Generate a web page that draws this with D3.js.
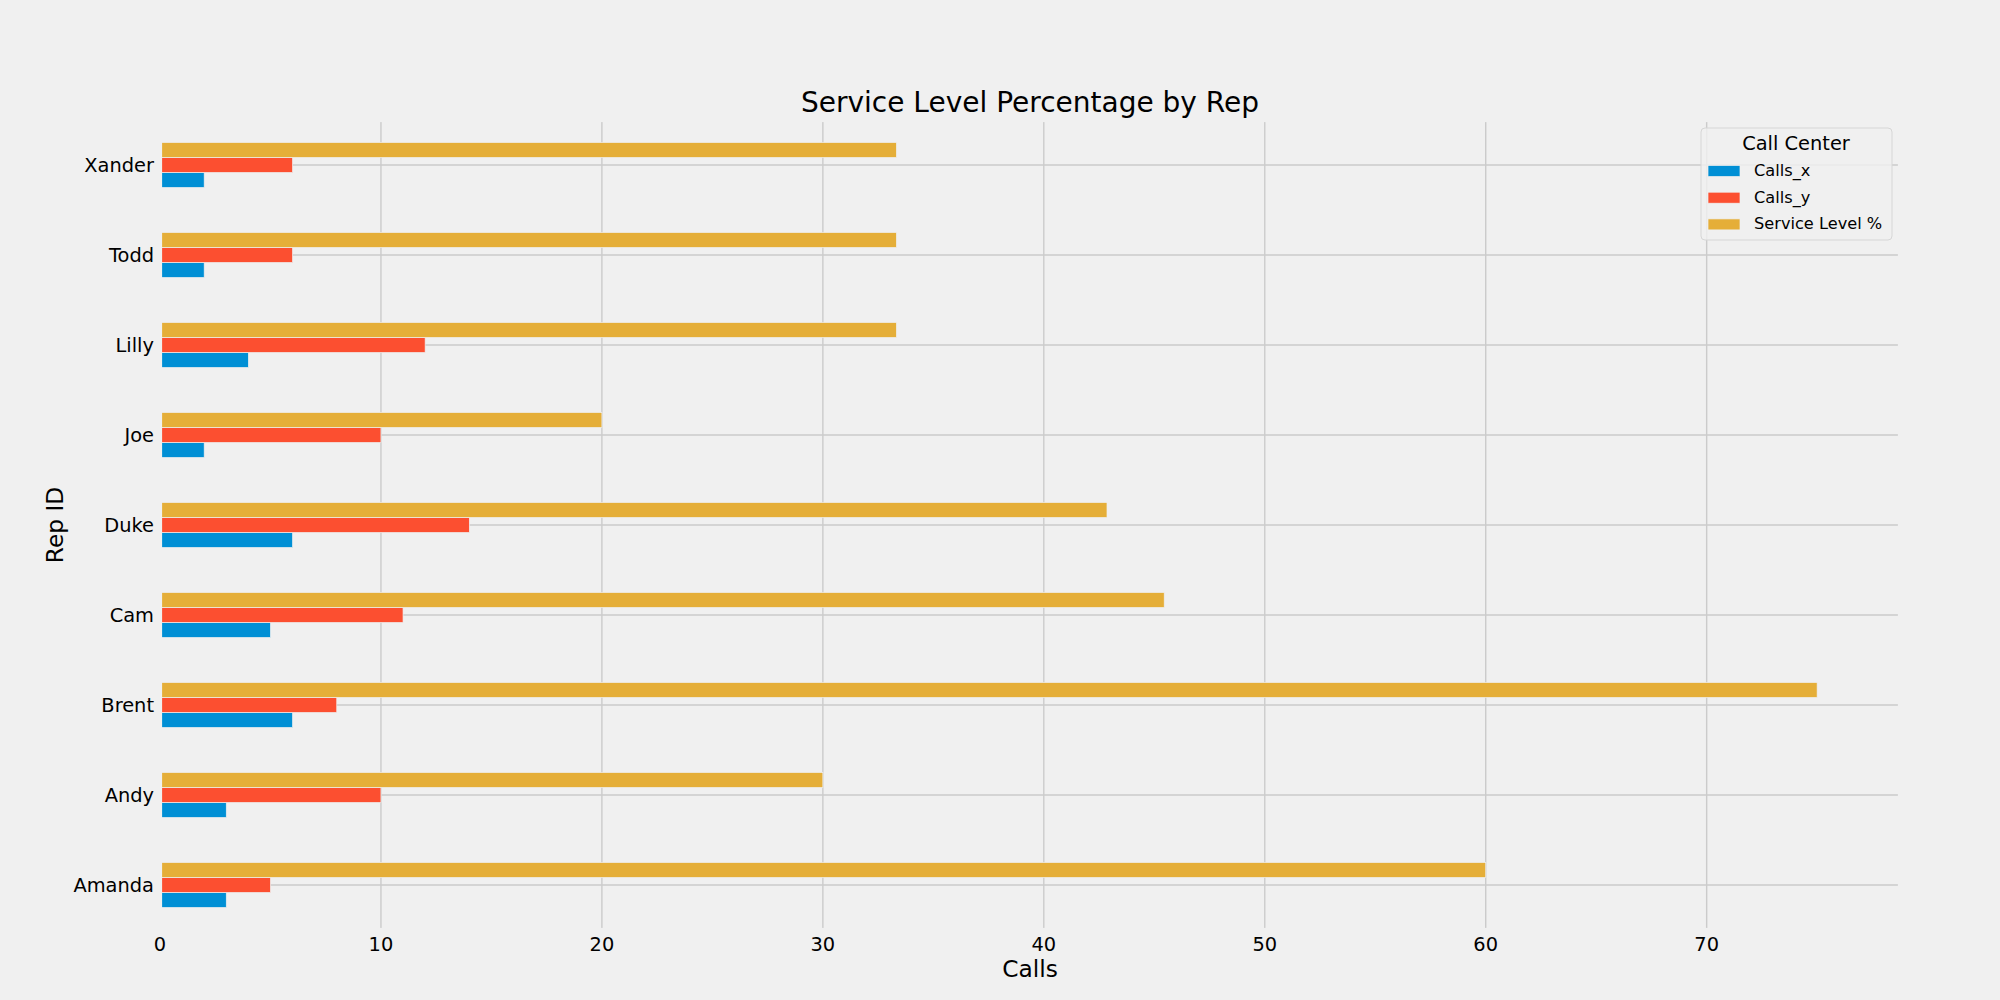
<!DOCTYPE html>
<html>
<head>
<meta charset="utf-8">
<script src="https://cdn.jsdelivr.net/npm/d3@7"></script>
<style>
  html, body { margin: 0; padding: 0; background: #f0f0f0; }
  svg { display: block; font-family: "DejaVu Sans", sans-serif; }
</style>
</head>
<body>
<svg id="chart" width="2000" height="1000"></svg>
<script>
// ---- data ----
const reps = ["Amanda", "Andy", "Brent", "Cam", "Duke", "Joe", "Lilly", "Todd", "Xander"];
const callsX = [3, 3, 6, 5, 6, 2, 4, 2, 2];
const callsY = [5, 10, 8, 11, 14, 10, 12, 6, 6];
const serviceLevel = [60, 30, 75, 45.45, 42.86, 20, 33.33, 33.33, 33.33];
const seriesNames = ["Calls_x", "Calls_y", "Service Level %"];
const seriesColors = ["#008fd5", "#fc4f30", "#e5ae38"];
const xTicks = [0, 10, 20, 30, 40, 50, 60, 70];
const titleText = "Service Level Percentage by Rep";
const xLabel = "Calls";
const yLabel = "Rep ID";
const legendTitle = "Call Center";

const seriesValues = [callsX, callsY, serviceLevel];

// ---- layout ----
const svg = d3.select("#chart");
const L = 160, R = 1900, T = 120, B = 930;

svg.append("rect").attr("width", 2000).attr("height", 1000).attr("fill", "#f0f0f0");

const maxVal = d3.max(seriesValues.flat());
const x = d3.scaleLinear().domain([0, maxVal * 1.05]).range([L, R]);
const y = d3.scaleLinear().domain([-0.5, reps.length - 0.5]).range([B, T]);

// grid
const g = svg.append("g");
g.selectAll("line.vg").data(xTicks).enter().append("line")
  .attr("x1", d => x(d)).attr("x2", d => x(d))
  .attr("y1", T).attr("y2", B)
  .attr("stroke", "#cbcbcb").attr("stroke-width", 1.4);
g.selectAll("line.hg").data(reps).enter().append("line")
  .attr("x1", L).attr("x2", R)
  .attr("y1", (d, i) => y(i)).attr("y2", (d, i) => y(i))
  .attr("stroke", "#cbcbcb").attr("stroke-width", 1.4);

// bars
const barH = 0.5 / seriesNames.length;
seriesValues.forEach((vals, s) => {
  const off = (s - (seriesNames.length - 1) / 2) * barH;
  svg.append("g").selectAll("rect").data(vals).enter().append("rect")
    .attr("x", x(0))
    .attr("width", d => x(d) - x(0))
    .attr("y", (d, i) => y(i + off + barH / 2))
    .attr("height", (d, i) => y(i + off - barH / 2) - y(i + off + barH / 2))
    .attr("fill", seriesColors[s])
    .attr("stroke", "#f0f0f0").attr("stroke-width", 0.7);
});

// spines (same colour as background, drawn over bars and grid)
svg.append("rect").attr("x", L).attr("y", T).attr("width", R - L).attr("height", B - T)
  .attr("fill", "none").attr("stroke", "#f0f0f0").attr("stroke-width", 4.2);

// x tick labels
svg.append("g").selectAll("text").data(xTicks).enter().append("text")
  .attr("x", d => x(d)).attr("y", 950.5)
  .attr("text-anchor", "middle").attr("font-size", 19.4).attr("fill", "#000")
  .text(d => d);

// y tick labels
svg.append("g").selectAll("text").data(reps).enter().append("text")
  .attr("x", 154).attr("y", (d, i) => y(i) + 7)
  .attr("text-anchor", "end").attr("font-size", 19.4).attr("fill", "#000")
  .text(d => d);

// title & labels
svg.append("text").attr("x", (L + R) / 2).attr("y", 112)
  .attr("text-anchor", "middle").attr("font-size", 28).attr("fill", "#000")
  .text(titleText);
svg.append("text").attr("x", (L + R) / 2).attr("y", 977)
  .attr("text-anchor", "middle").attr("font-size", 23.3).attr("fill", "#000")
  .text(xLabel);
svg.append("text")
  .attr("transform", `translate(63,${(T + B) / 2}) rotate(-90)`)
  .attr("text-anchor", "middle").attr("font-size", 23.3).attr("fill", "#000")
  .text(yLabel);

// legend
const lg = svg.append("g");
lg.append("rect").attr("x", 1701).attr("y", 128).attr("width", 191).attr("height", 112)
  .attr("rx", 4).attr("ry", 4)
  .attr("fill", "#f0f0f0").attr("fill-opacity", 0.8)
  .attr("stroke", "#d6d6d6").attr("stroke-width", 1);
lg.append("text").attr("x", 1796).attr("y", 150)
  .attr("text-anchor", "middle").attr("font-size", 19.4).attr("fill", "#000")
  .text(legendTitle);
seriesNames.forEach((name, s) => {
  const cy = 171 + s * 26.7;
  lg.append("rect").attr("x", 1708).attr("y", cy - 5.5).attr("width", 32).attr("height", 11)
    .attr("fill", seriesColors[s]).attr("stroke", "#f0f0f0").attr("stroke-width", 0.7);
  lg.append("text").attr("x", 1754).attr("y", cy + 5)
    .attr("font-size", 16.2).attr("fill", "#000").text(name);
});
</script>
</body>
</html>
